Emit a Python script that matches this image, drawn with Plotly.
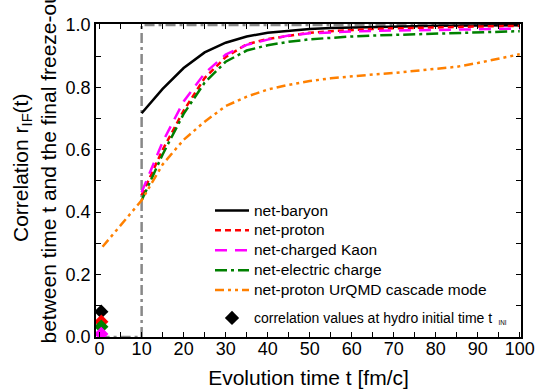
import plotly.graph_objects as go

t_hydro = [10, 15, 20, 25, 30, 35, 40, 45, 50, 55, 60, 65, 70, 75, 80, 85, 90, 95, 100]
net_baryon = [0.717, 0.795, 0.862, 0.912, 0.943, 0.963, 0.975, 0.982, 0.987, 0.990, 0.992, 0.994,
              0.995, 0.996, 0.997, 0.998, 0.998, 0.999, 0.999]
net_proton = [0.454, 0.600, 0.725, 0.830, 0.897, 0.938, 0.955, 0.966, 0.975, 0.980, 0.984, 0.987,
              0.989, 0.991, 0.993, 0.994, 0.995, 0.996, 0.997]
net_kaon = [0.464, 0.625, 0.755, 0.845, 0.905, 0.936, 0.953, 0.966, 0.973, 0.977, 0.979, 0.981,
            0.982, 0.983, 0.984, 0.985, 0.986, 0.987, 0.988]
net_charge = [0.438, 0.585, 0.715, 0.815, 0.882, 0.918, 0.935, 0.946, 0.954, 0.959, 0.963, 0.966,
              0.968, 0.971, 0.974, 0.976, 0.978, 0.979, 0.980]

t_urqmd = [0.7, 10, 15, 20, 25, 30, 35, 40, 45, 50, 55, 60, 65, 70, 75, 80, 85, 90, 95, 100]
urqmd_proton = [0.289, 0.438, 0.553, 0.632, 0.690, 0.740, 0.770, 0.793, 0.808, 0.820, 0.829, 0.836,
                0.841, 0.846, 0.852, 0.858, 0.866, 0.878, 0.892, 0.906]

t_step = [0, 10, 10, 100]
step_vals = [0, 0, 1, 1]

t_ini = 0.4
ini_vals = {"black": 0.081, "#ff0000": 0.049, "#008000": 0.033, "#ff00ff": 0.010}

FONT = "Liberation Sans, Arial, sans-serif"

fig = go.Figure()

fig.add_trace(go.Scatter(x=t_step, y=step_vals, mode="lines", showlegend=False,
                         line=dict(color="#888888", width=2.5, dash="10px,4px,3px,4px")))

series = [
    ("net-baryon", t_hydro, net_baryon, "black", "solid"),
    ("net-proton", t_hydro, net_proton, "#ff0000", "6px,4px"),
    ("net-charged Kaon", t_hydro, net_kaon, "#ff00ff", "12px,8px"),
    ("net-electric charge", t_hydro, net_charge, "#008000", "12px,4px,3px,4px"),
    ("net-proton UrQMD cascade mode", t_urqmd, urqmd_proton, "#ff8000", "9px,4px,3px,4px,3px,4px"),
]
for name, xs, ys, col, dash in series:
    fig.add_trace(go.Scatter(x=xs, y=ys, mode="lines",
                             name='<span style="font-size:15.5px">' + name + '</span>',
                             legendgroup="g1",
                             line=dict(color=col, width=2.5, dash=dash)))

first = True
for col, v in ini_vals.items():
    fig.add_trace(go.Scatter(
        x=[t_ini], y=[v], mode="markers", legendgroup="g2",
        name='<span style="font-size:14px">correlation values at hydro initial time t </span>'
             '<span style="font-size:9px"> <sub>INI</sub></span>',
        showlegend=first,
        marker=dict(symbol="diamond", size=11, color=col)))
    first = False

axis_common = dict(
    showline=True, linecolor="black", linewidth=1.5, mirror="allticks",
    ticks="inside", ticklen=5, tickwidth=1.2, tickcolor="black",
    showgrid=False, zeroline=False, automargin=False,
    tickfont=dict(family=FONT, size=18, color="black"),
)

fig.update_xaxes(range=[-0.86, 100.3], tickmode="array", tickvals=list(range(0, 101, 10)),
                 minor=dict(tickvals=list(range(5, 100, 10)), ticks="inside", ticklen=5,
                            tickcolor="black", tickwidth=1.2),
                 ticklabelstandoff=-5,
                 title=dict(text="Evolution time t [fm/c]", font=dict(family=FONT, size=21, color="black"),
                            standoff=12),
                 **axis_common)
fig.update_yaxes(range=[0, 1.003], tickmode="array", tickvals=[0, 0.2, 0.4, 0.6, 0.8, 1.0],
                 ticktext=["0.0", "0.2", "0.4", "0.6", "0.8", "1.0"],
                 minor=dict(tickvals=[0.1, 0.3, 0.5, 0.7, 0.9], ticks="inside", ticklen=5,
                            tickcolor="black", tickwidth=1.2),
                 **axis_common)

fig.add_annotation(text="Correlation r<sub>IF</sub>(t)", textangle=-90, xref="paper", yref="paper",
                   x=(22 - 96) / 425, y=(337 - 168) / 313, xanchor="center", yanchor="middle",
                   showarrow=False, font=dict(family=FONT, size=21, color="black"))
fig.add_annotation(text="between time t and the final freeze-out", textangle=-90, xref="paper", yref="paper",
                   x=(48 - 96) / 425, y=(337 - 346) / 313, xanchor="center", yanchor="bottom",
                   showarrow=False, font=dict(family=FONT, size=21, color="black"))

fig.update_layout(
    width=537, height=389,
    margin=dict(l=96, r=16, t=24, b=52),
    paper_bgcolor="white", plot_bgcolor="white",
    showlegend=True,
    legend=dict(x=(210 - 96) / 425, y=(337 - 195.5) / 313, xanchor="left", yanchor="top",
                bgcolor="rgba(0,0,0,0)", font=dict(family=FONT, size=13, color="black"),
                tracegroupgap=8, itemwidth=34),
    font=dict(family=FONT, color="black"),
)

fig.write_html("out.html")
